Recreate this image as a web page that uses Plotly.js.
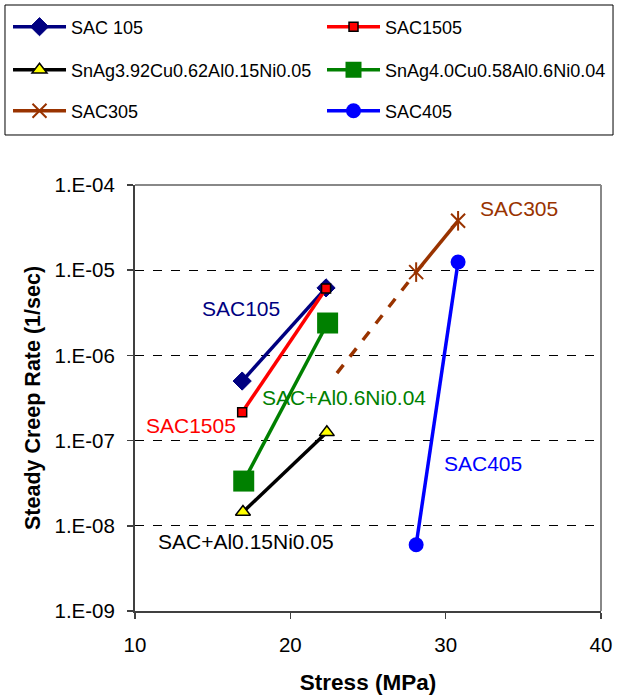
<!DOCTYPE html>
<html>
<head>
<meta charset="utf-8">
<script src="https://cdn.plot.ly/plotly-3.0.1.min.js"></script>
<style>html,body{margin:0;padding:0;background:#fff;}#chart{width:618px;height:696px;}</style>
</head>
<body>
<div id="chart"></div>
<script>
// ---- data ----
const seriesNames = ["SAC 105", "SAC1505", "SnAg3.92Cu0.62Al0.15Ni0.05", "SnAg4.0Cu0.58Al0.6Ni0.04", "SAC305", "SAC405"];
const sac105Stress = [16.9, 22.3];
const sac105Rate = [5.0e-7, 6.2e-6];
const sac1505Stress = [16.9, 22.3];
const sac1505Rate = [2.15e-7, 6.1e-6];
const al015Stress = [16.95, 22.35];
const al015Rate = [1.45e-8, 1.25e-7];
const al06Stress = [17.0, 22.4];
const al06Rate = [3.35e-8, 2.4e-6];
const sac305Stress = [28.1, 30.8];
const sac305Rate = [9.5e-6, 3.8e-5];
const sac305ExtStress = [23.0, 28.1];
const sac305ExtRate = [6.2e-7, 9.5e-6];
const sac405Stress = [28.1, 30.8];
const sac405Rate = [6.0e-9, 1.25e-5];
const yTickVals = [1e-9, 1e-8, 1e-7, 1e-6, 1e-5, 1e-4];
const yTickText = ["1.E-09", "1.E-08", "1.E-07", "1.E-06", "1.E-05", "1.E-04"];
const xTickVals = [10, 20, 30, 40];
const labelTexts = ["SAC105", "SAC1505", "SAC+Al0.15Ni0.05", "SAC+Al0.6Ni0.04", "SAC305", "SAC405"];
const labelX = [16.83, 13.6, 17.13, 23.44, 34.73, 32.39];
const labelLogY = [-5.447, -6.825, -8.187, -6.492, -4.273, -7.266];

// ---- styles ----
const FONT = "Liberation Sans, Arial, sans-serif";
const colors = ["#000080", "#FF0000", "#000000", "#008000", "#993300", "#0000FF"];

const traces = [
  {x: sac105Stress, y: sac105Rate, name: seriesNames[0], legend: "legend", mode: "lines+markers",
   line: {color: colors[0], width: 3.5},
   marker: {symbol: "diamond", size: 14, color: colors[0], line: {color: colors[0], width: 1}}},
  {x: sac1505Stress, y: sac1505Rate, name: seriesNames[1], legend: "legend2", mode: "lines+markers",
   line: {color: colors[1], width: 3.5},
   marker: {symbol: "square", size: 9, color: colors[1], line: {color: "#000", width: 1.5}}},
  {x: al015Stress, y: al015Rate, name: seriesNames[2], legend: "legend3", mode: "lines+markers",
   line: {color: colors[2], width: 3.5},
   marker: {symbol: "triangle-up", size: 13, color: "#FFFF00", line: {color: "#000", width: 1.5}}},
  {x: al06Stress, y: al06Rate, name: seriesNames[3], legend: "legend4", mode: "lines+markers",
   line: {color: colors[3], width: 3.5},
   marker: {symbol: "square", size: 21, color: colors[3], line: {color: colors[3], width: 0}}},
  {x: sac305ExtStress, y: sac305ExtRate, mode: "lines", showlegend: false, hoverinfo: "skip",
   line: {color: colors[4], width: 3.5, dash: "dash"}},
  {x: sac305Stress, y: sac305Rate, name: seriesNames[4], legend: "legend5", mode: "lines+markers",
   line: {color: colors[4], width: 3.5},
   marker: {symbol: "x-thin-open", size: 14, color: colors[4], line: {color: colors[4], width: 2}}},
  {x: sac305Stress, y: sac305Rate, mode: "markers", showlegend: false, hoverinfo: "skip",
   marker: {symbol: "line-ns-open", size: 14, color: colors[4], line: {color: colors[4], width: 2}}},
  {x: sac405Stress, y: sac405Rate, name: seriesNames[5], legend: "legend6", mode: "lines+markers",
   line: {color: colors[5], width: 3.5},
   marker: {symbol: "circle", size: 15, color: colors[5], line: {color: colors[5], width: 0}}}
];

const annotations = labelTexts.map((t, i) => ({
  x: labelX[i], y: labelLogY[i], xref: "x", yref: "y", text: t, showarrow: false,
  xanchor: "center", yanchor: "middle", font: {family: FONT, size: 21, color: colors[i === 2 ? 2 : i === 3 ? 3 : i]}
}));

function legendAt(x, y) {
  return {x: x, y: y, xanchor: "left", yanchor: "middle", orientation: "h",
    bgcolor: "rgba(0,0,0,0)", borderwidth: 0, itemwidth: 53,
    font: {family: FONT, size: 18, color: "#000"}};
}

const layout = {
  width: 618, height: 696,
  margin: {l: 135, r: 17, t: 185, b: 85, autoexpand: false},
  paper_bgcolor: "#fff", plot_bgcolor: "#fff",
  font: {family: FONT, color: "#000"},
  showlegend: true,
  legend: legendAt(-0.2725, 1.3709),
  legend2: legendAt(0.4013, 1.3709),
  legend3: legendAt(-0.2725, 1.2700),
  legend4: legendAt(0.4013, 1.2700),
  legend5: legendAt(-0.2725, 1.1737),
  legend6: legendAt(0.4013, 1.1737),
  xaxis: {
    type: "linear", range: [10, 40], tickvals: xTickVals, ticks: "outside", ticklen: 6,
    tickcolor: "#404040", tickwidth: 1.5, showgrid: false, zeroline: false,
    showline: true, linecolor: "#404040", linewidth: 2, ticklabelstandoff: 8,
    tickfont: {family: FONT, size: 20.5, color: "#000"},
    title: {text: "<b>Stress (MPa)</b>", font: {family: FONT, size: 22.5, color: "#000"}, standoff: 20}
  },
  yaxis: {
    type: "log", range: [-9, -4], tickvals: yTickVals, ticktext: yTickText, ticks: "outside", ticklen: 6,
    tickcolor: "#404040", tickwidth: 1.5, showgrid: true, gridcolor: "#000", gridwidth: 1, griddash: "dash",
    zeroline: false, showline: true, linecolor: "#404040", linewidth: 2, ticklabelstandoff: 8,
    tickfont: {family: FONT, size: 20.5, color: "#000"},
    title: {text: "<b>Steady Creep Rate (1/sec)</b>", font: {family: FONT, size: 21.5, color: "#000"}, standoff: 8}
  },
  shapes: [
    {type: "line", xref: "paper", yref: "paper", x0: 0, x1: 1, y0: 1, y1: 1, line: {color: "#888888", width: 2}},
    {type: "line", xref: "paper", yref: "paper", x0: 1, x1: 1, y0: 0, y1: 1, line: {color: "#888888", width: 2}},
    {type: "rect", xref: "paper", yref: "paper", x0: -0.279, x1: 1.0258, y0: 1.1174, y1: 1.4225,
     line: {color: "#000", width: 1}, fillcolor: "rgba(0,0,0,0)"}
  ],
  annotations: annotations
};

Plotly.newPlot("chart", traces, layout, {staticPlot: true, displayModeBar: false});
</script>
</body>
</html>
